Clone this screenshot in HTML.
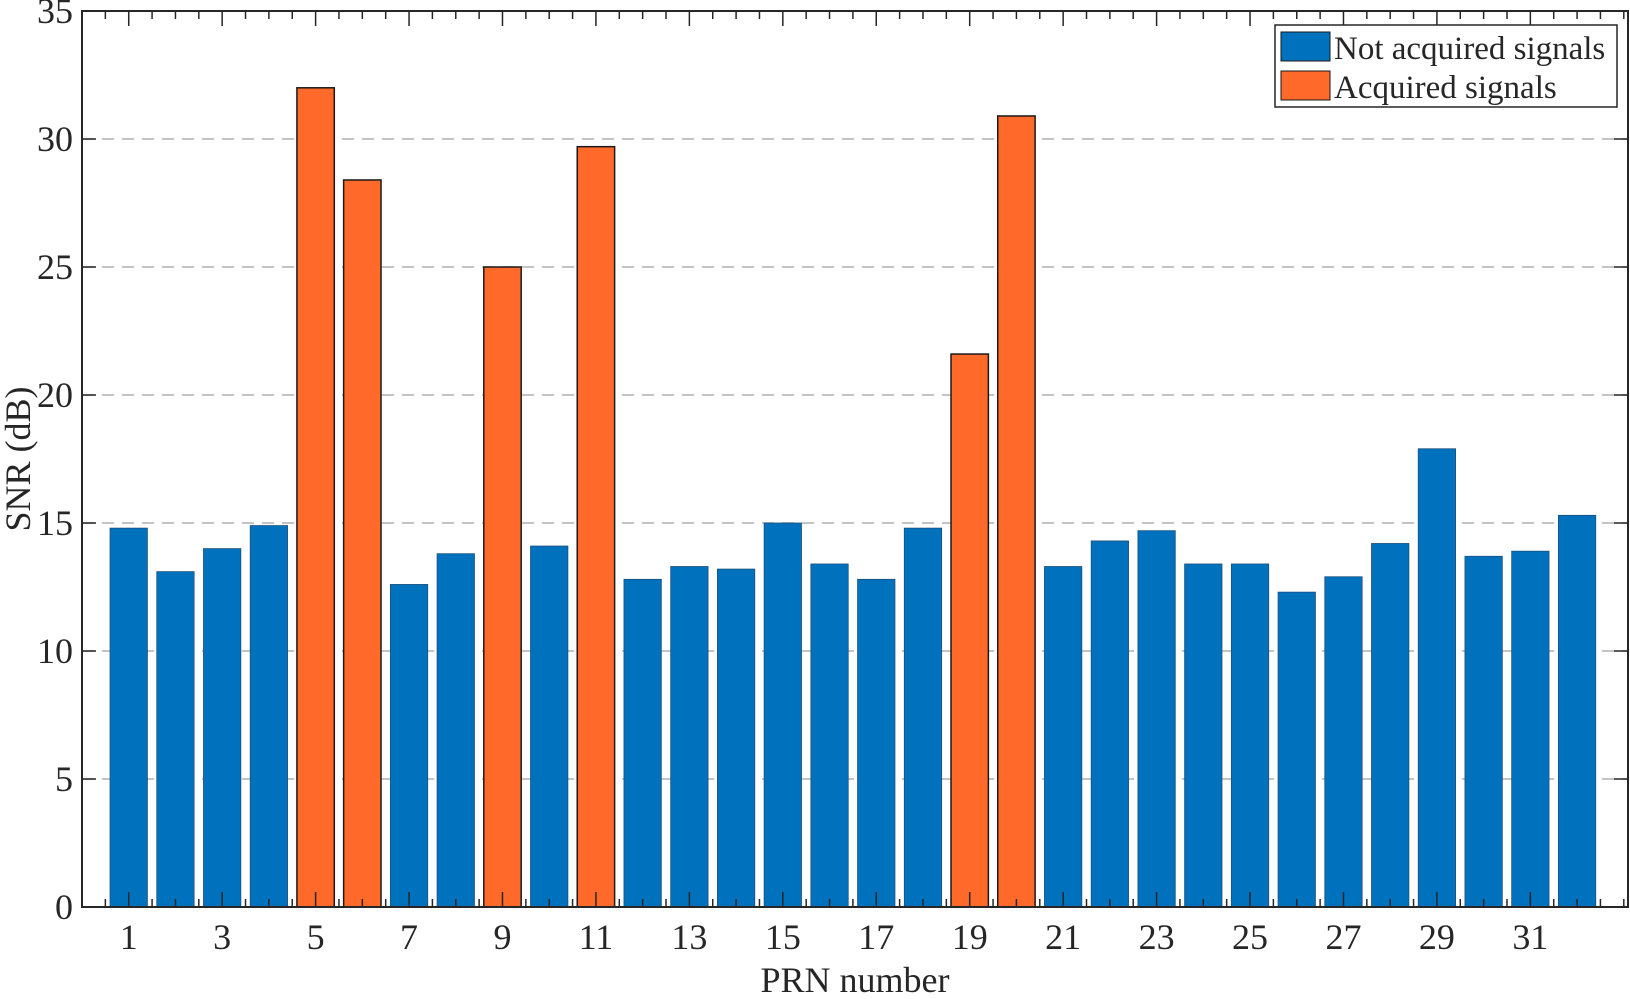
<!DOCTYPE html>
<html><head><meta charset="utf-8"><style>
html,body{margin:0;padding:0;background:#fff}
svg text{font-family:"Liberation Serif",serif;fill:#262626}
</style></head><body>
<svg id="chart" width="1630" height="994" xmlns="http://www.w3.org/2000/svg">
<g id="grid"></g>
<g id="bars"></g>
<g id="axes"></g>
<text x="855" y="992" font-size="36" text-anchor="middle">PRN number</text>
<text x="0" y="0" font-size="36" text-anchor="middle" transform="translate(30,459) rotate(-90)">SNR (dB)</text>
<g>
<rect x="1275" y="25" width="342" height="82" fill="#fff" stroke="#262626" stroke-width="1.5"/>
<rect x="1281" y="32" width="49" height="29" fill="#0072BD" stroke="#1a1a1a" stroke-width="1"/>
<text x="1334" y="59" font-size="33" fill="#000">Not acquired signals</text>
<rect x="1281" y="71" width="49" height="29" fill="#FF6A2A" stroke="#1a1a1a" stroke-width="1"/>
<text x="1334" y="98" font-size="33" fill="#000">Acquired signals</text>
</g>
</svg>
<script>
const prn = [1,2,3,4,5,6,7,8,9,10,11,12,13,14,15,16,17,18,19,20,21,22,23,24,25,26,27,28,29,30,31,32];
const snr = [14.8,13.1,14.0,14.9,32.0,28.4,12.6,13.8,25.0,14.1,29.7,12.8,13.3,13.2,15.0,13.4,12.8,14.8,21.6,30.9,13.3,14.3,14.7,13.4,13.4,12.3,12.9,14.2,17.9,13.7,13.9,15.3];
const acquired = [0,0,0,0,1,1,0,0,1,0,1,0,0,0,0,0,0,0,1,1,0,0,0,0,0,0,0,0,0,0,0,0];
const yTicks = [0,5,10,15,20,25,30,35];
const xTickLabels = [1,3,5,7,9,11,13,15,17,19,21,23,25,27,29,31];
const L=82,R=1628,T=11,B=907,XMIN=0,XMAX=33.09,YMAX=35;
const xs=v=>L+(v-XMIN)/(XMAX-XMIN)*(R-L);
const ys=v=>B-v/YMAX*(B-T);
const NS='http://www.w3.org/2000/svg';
function mk(tag,attrs,parent){const e=document.createElementNS(NS,tag);for(const k in attrs)e.setAttribute(k,attrs[k]);parent.appendChild(e);return e;}
const grid=document.getElementById('grid'),bars=document.getElementById('bars'),axes=document.getElementById('axes');
yTicks.forEach(t=>{
  if(t>0&&t<YMAX){const g=mk('line',{x1:L,x2:R,y1:ys(t),y2:ys(t),stroke:'#b0b0b0','stroke-width':1.5,'stroke-dasharray':'12 8'},grid);
  
  }
  const tl=mk('text',{x:L-9,y:ys(t)+12,'font-size':36,'text-anchor':'end'},axes);tl.textContent=t;
  
  
  mk('line',{x1:L,x2:L+14,y1:ys(t),y2:ys(t),stroke:'#262626','stroke-width':1.5},axes);
  mk('line',{x1:R,x2:R-14,y1:ys(t),y2:ys(t),stroke:'#262626','stroke-width':1.5},axes);
});
const bw=0.8*(xs(1)-xs(0));
prn.forEach((p,i)=>{
  const b=mk('rect',{x:xs(p)-bw/2,y:ys(snr[i]),width:bw,height:B-ys(snr[i]),fill:acquired[i]?'#FF6A2A':'#0072BD',stroke:acquired[i]?'#1a1a1a':'#1d4f7a','stroke-width':acquired[i]?1.5:0.8},bars);
  
  
});
for(let v=0.5;v<XMAX;v+=0.5){
  const major=xTickLabels.includes(v);const len=major?15:8;
  mk('line',{x1:xs(v),x2:xs(v),y1:B,y2:B-len,stroke:'#262626','stroke-width':1.5},axes);
  mk('line',{x1:xs(v),x2:xs(v),y1:T,y2:T+len,stroke:'#262626','stroke-width':1.5},axes);
}
xTickLabels.forEach(v=>{
  const tl=mk('text',{x:xs(v),y:B+42,'font-size':36,'text-anchor':'middle'},axes);tl.textContent=v;
  
  
});
const fr=mk('rect',{x:L,y:T,width:R-L,height:B-T,fill:'none',stroke:'#262626','stroke-width':2},axes);


</script>
</body></html>
